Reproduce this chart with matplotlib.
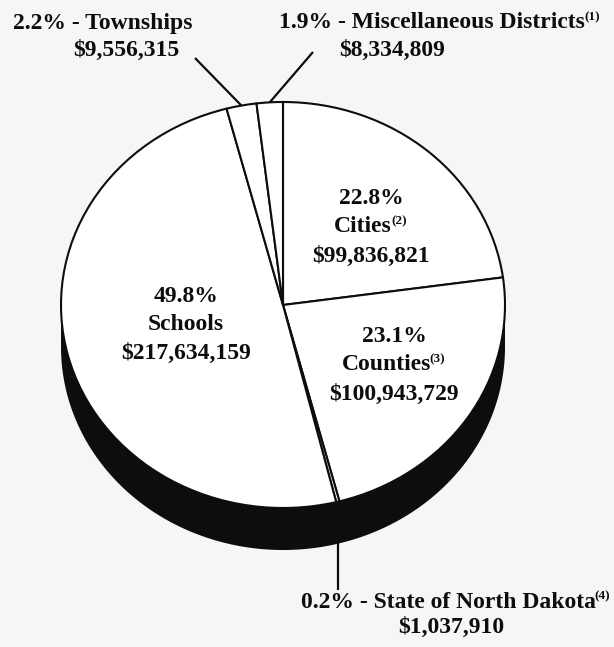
import numpy as np
import matplotlib
matplotlib.use("Agg")
import matplotlib.pyplot as plt
from matplotlib.transforms import ScaledTranslation

# Property tax levied, by taxing district
categories = ["Cities", "Counties", "State of North Dakota", "Schools",
              "Townships", "Miscellaneous Districts"]
amounts = [99836821, 100943729, 1037910, 217634159, 9556315, 8334809]
footnotes = ["(2)", "(3)", "(4)", "", "", "(1)"]

BG = "#f6f6f4"
INK = "#0d0d0d"
FONT = "Liberation Serif"

W, H = 614, 647
CX, CY, RX, RY = 283, 305, 222, 203   # top face of the pie, in pixels
DEPTH = 42                            # thickness of the pie side, in pixels

fig = plt.figure(figsize=(W / 100, H / 100), dpi=100, facecolor=BG)
ax = fig.add_axes([0, 0, 1, 1])
ax.set_facecolor(BG)


def px(x, y):
    """Pixel position (from top-left) to data coordinates."""
    return (x - CX) / RX, (CY - y) / RY


wedges, _ = ax.pie(amounts, startangle=90, counterclock=False, radius=1,
                   colors=["white"] * len(amounts),
                   wedgeprops=dict(edgecolor=INK, linewidth=1.5, zorder=3))

# dark side of the pie
d = DEPTH / RY
t = np.linspace(np.pi, 2 * np.pi, 400)
top_arc = np.column_stack([np.cos(t), np.sin(t)])
bot_arc = top_arc - [0, d]
side = np.vstack([bot_arc, top_arc[::-1]])
ax.fill(side[:, 0], side[:, 1], color=INK, zorder=1, lw=0)

ax.set_xlim(-CX / RX, (W - CX) / RX)
ax.set_ylim((CY - H) / RY, CY / RY)
ax.set_aspect("auto")
ax.axis("off")

total = sum(amounts)
pct = [f"{100 * a / total:.1f}%" for a in amounts]
money = [r"\$" + f"{a:,}" for a in amounts]

FS = 17
SUP_FS = 9.5
tk = dict(fontsize=FS, fontweight="bold", family=FONT, color=INK,
          va="center", zorder=5)

renderer = fig.canvas.get_renderer()


def shifted(dx_px, dy_px):
    return ax.transData + ScaledTranslation(dx_px / 100, dy_px / 100, fig.dpi_scale_trans)


def label(x, y, text, note=""):
    """Centered bold text with an optional small raised footnote marker."""
    pos = px(x, y)
    base = ax.text(*pos, text, ha="center", **tk)
    if not note:
        return
    sup = ax.text(*pos, note, ha="left", va="center", fontsize=SUP_FS,
                  fontweight="bold", family=FONT, color=INK, zorder=5)
    bw = base.get_window_extent(renderer).width
    sw = sup.get_window_extent(renderer).width
    base.set_transform(shifted(-sw / 2, 0))
    sup.set_transform(shifted(bw / 2 - sw / 2 - 1.0, 6))


def rim(i):
    w = wedges[i]
    a = np.deg2rad((w.theta1 + w.theta2) / 2)
    return np.cos(a), np.sin(a)


# labels inside the large slices
inside = {0: (371, 198, 227, 256), 1: (394, 337, 365, 394), 3: (186, 297, 325, 353)}
for i, (x, y1, y2, y3) in inside.items():
    label(x, y1, pct[i])
    label(x, y2, categories[i], footnotes[i])
    label(x, y3, money[i])

# Townships (index 4)
label(103, 23, f"{pct[4]} - {categories[4]}", footnotes[4])
label(126, 50, money[4])
rx, ry = rim(4)
lx, ly = px(195, 58)
ax.plot([lx, rx], [ly, ry], color=INK, lw=1.6, zorder=4, solid_capstyle="butt")

# Miscellaneous Districts (index 5)
label(440, 23, f"{pct[5]} - {categories[5]}", footnotes[5])
label(392, 50, money[5])
rx, ry = rim(5)
lx, ly = px(313, 52)
ax.plot([lx, rx], [ly, ry], color=INK, lw=1.6, zorder=4, solid_capstyle="butt")

# State of North Dakota (index 2)
label(456, 602, f"{pct[2]} - {categories[2]}", footnotes[2])
label(451, 627, money[2])
rx, ry = rim(2)
_, ly = px(0, 590)
ax.plot([rx, rx], [ry, ly], color=INK, lw=1.6, zorder=4, solid_capstyle="butt")

fig.savefig("out.png", dpi=100, facecolor=BG)
